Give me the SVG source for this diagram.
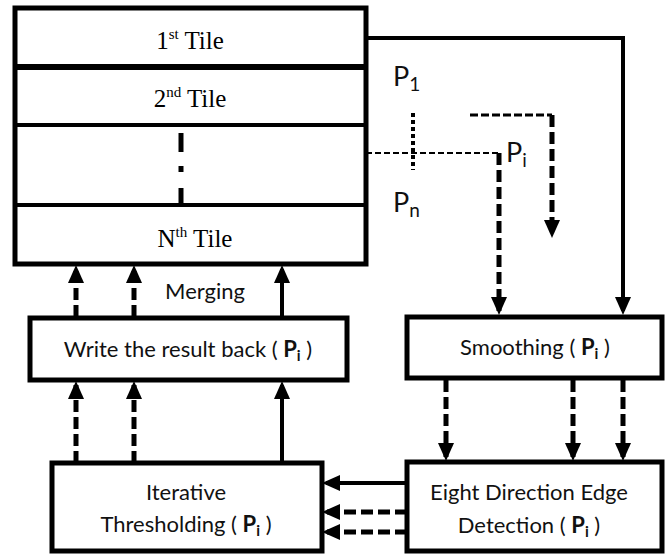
<svg xmlns="http://www.w3.org/2000/svg" width="666" height="554" viewBox="0 0 666 554">
<style>
.box{fill:#fff;stroke:#000;stroke-width:5}
.div{stroke:#000;fill:none}
.serif{font-family:"Liberation Serif","Times New Roman",serif;font-size:25px;fill:#000}
.sans{font-family:Lato,"Open Sans",sans-serif;font-size:22px;fill:#111}
.plab{font-family:Lato,"Open Sans",sans-serif;font-size:27px;fill:#111}
.sub{font-size:15px}
.psub{font-size:19px}
.c{fill:none;stroke:#000}
.solid{stroke-width:4}
.dash{stroke-width:5;stroke-dasharray:12 5}
.thin{stroke-width:2;stroke-dasharray:6 3}
.dot{stroke-width:4;stroke-dasharray:4 3}
</style>
<defs>
<marker id="ah" markerUnits="userSpaceOnUse" markerWidth="18" markerHeight="16" viewBox="0 0 18 16" refX="14" refY="8" orient="auto">
<path d="M0,0 L18,8 L0,16 z" fill="#000"/>
</marker>
</defs>
<g id="tiles">
<rect class="box" x="15" y="8" width="351" height="256"/>
<line class="div" x1="15" y1="67" x2="366" y2="67" stroke-width="6"/>
<line class="div" x1="15" y1="125" x2="366" y2="125" stroke-width="4"/>
<line class="div" x1="15" y1="205" x2="366" y2="205" stroke-width="4"/>
<line class="div" x1="181" y1="133" x2="181" y2="152" stroke-width="5"/>
<line class="div" x1="181" y1="166" x2="181" y2="172" stroke-width="5"/>
<line class="div" x1="181" y1="188" x2="181" y2="205" stroke-width="5"/>
<text class="serif" x="190" y="49" text-anchor="middle">1<tspan class="sub" dy="-10">st</tspan><tspan dy="10"> Tile</tspan></text>
<text class="serif" x="190" y="107" text-anchor="middle">2<tspan class="sub" dy="-10">nd</tspan><tspan dy="10"> Tile</tspan></text>
<text class="serif" x="195" y="247" text-anchor="middle">N<tspan class="sub" dy="-10">th</tspan><tspan dy="10"> Tile</tspan></text>
</g>
<g id="labels">
<text class="plab" x="393" y="86">P<tspan class="psub" dy="5">1</tspan></text>
<text class="plab" x="393" y="212">P<tspan class="psub" dy="5">n</tspan></text>
<text class="plab" x="506" y="162">P<tspan class="psub" dy="5">i</tspan></text>
<text class="sans" x="205" y="299" text-anchor="middle">Merging</text>
</g>
<g id="write">
<rect class="box" x="30" y="318" width="317" height="62"/>
<text class="sans" x="188" y="357" text-anchor="middle">Write the result back ( <tspan font-weight="bold">P</tspan><tspan class="sub" font-weight="bold" dy="4">i</tspan><tspan dy="-4"> )</tspan></text>
</g>
<g id="smoothing">
<rect class="box" x="407" y="317" width="255" height="61"/>
<text class="sans" x="535" y="355" text-anchor="middle">Smoothing ( <tspan font-weight="bold">P</tspan><tspan class="sub" font-weight="bold" dy="4">i</tspan><tspan dy="-4"> )</tspan></text>
</g>
<g id="iterative">
<rect class="box" x="52" y="463" width="270" height="88"/>
<text class="sans" x="186" y="500" text-anchor="middle">Iterative</text>
<text class="sans" x="186" y="532" text-anchor="middle">Thresholding ( <tspan font-weight="bold">P</tspan><tspan class="sub" font-weight="bold" dy="4">i</tspan><tspan dy="-4"> )</tspan></text>
</g>
<g id="edge">
<rect class="box" x="407" y="462" width="255" height="89"/>
<text class="sans" x="529" y="500" text-anchor="middle">Eight Direction Edge</text>
<text class="sans" x="529" y="533" text-anchor="middle">Detection ( <tspan font-weight="bold">P</tspan><tspan class="sub" font-weight="bold" dy="4">i</tspan><tspan dy="-4"> )</tspan></text>
</g>
<g id="connectors">
<polyline class="c solid" points="366,38 623,38 623,311" marker-end="url(#ah)"/>
<line class="c thin" x1="366" y1="153" x2="499" y2="153"/>
<line class="c dash" x1="499" y1="153" x2="499" y2="311" marker-end="url(#ah)"/>
<line class="c dot" x1="413" y1="113" x2="413" y2="170"/>
<line class="c" stroke-width="3" stroke-dasharray="8 3" x1="470" y1="115" x2="552" y2="115"/>
<line class="c dash" x1="552" y1="115" x2="552" y2="234" marker-end="url(#ah)"/>
<line class="c dash" x1="446" y1="380" x2="446" y2="457" marker-end="url(#ah)"/>
<line class="c dash" x1="573" y1="380" x2="573" y2="457" marker-end="url(#ah)"/>
<line class="c dash" x1="623" y1="380" x2="623" y2="457" stroke-dasharray="14 8" marker-end="url(#ah)"/>
<line class="c solid" x1="407" y1="483" x2="326" y2="483" marker-end="url(#ah)"/>
<line class="c dash" x1="407" y1="512" x2="326" y2="512" marker-end="url(#ah)"/>
<line class="c dash" x1="407" y1="532" x2="326" y2="532" marker-end="url(#ah)"/>
<line class="c dash" x1="76" y1="463" x2="76" y2="385" marker-end="url(#ah)"/>
<line class="c dash" x1="134" y1="463" x2="134" y2="385" marker-end="url(#ah)"/>
<line class="c solid" x1="282" y1="463" x2="282" y2="385" marker-end="url(#ah)"/>
<line class="c dash" x1="76" y1="317" x2="76" y2="269" marker-end="url(#ah)"/>
<line class="c dash" x1="134" y1="317" x2="134" y2="269" marker-end="url(#ah)"/>
<line class="c solid" x1="282" y1="317" x2="282" y2="269" marker-end="url(#ah)"/>
</g>
</svg>
